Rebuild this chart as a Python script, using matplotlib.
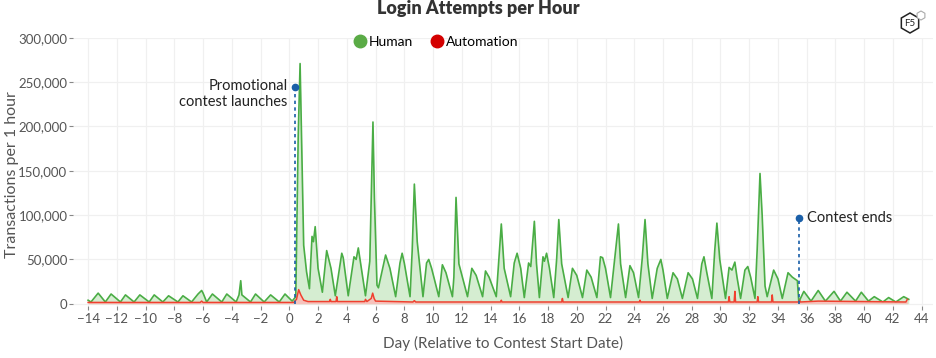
import numpy as np
import matplotlib
matplotlib.use('Agg')
import matplotlib.pyplot as plt
from matplotlib.lines import Line2D
from matplotlib.patches import RegularPolygon
from matplotlib.ticker import FuncFormatter

plt.rcParams['font.family'] = ['Lato', 'DejaVu Sans']

# values: (day, thousands of transactions)
human_day = [-14.0, -13.8, -13.3, -12.8, -12.4, -11.75, -11.4, -10.8, -10.4, -9.75, -9.4, -8.8, -8.4,
             -7.75, -7.4, -6.8, -6.35, -6.1, -6.0, -5.75, -5.35, -4.7, -4.35, -3.7, -3.5, -3.38, -3.3,
             -2.7, -2.35, -1.75, -1.3, -0.7, -0.3, 0.2, 0.45, 0.62, 0.75, 0.84, 1.0, 1.2, 1.4, 1.58,
             1.68, 1.8, 2.0, 2.3, 2.6, 2.9, 3.2, 3.65, 3.75, 4.1, 4.5, 4.65, 4.8, 5.3, 5.6, 5.82, 5.92,
             6.1, 6.2, 6.7, 7.0, 7.4, 7.7, 7.85, 8.0, 8.4, 8.55, 8.7, 8.9, 9.3, 9.55, 9.7, 9.9, 10.4,
             10.65, 10.9, 11.35, 11.45, 11.6, 11.8, 12.4, 12.7, 13.0, 13.45, 13.65, 13.9, 14.4, 14.6,
             14.75, 14.95, 15.4, 15.65, 15.85, 16.1, 16.35, 16.65, 16.8, 17.05, 17.2, 17.4, 17.65,
             17.75, 17.9, 18.1, 18.4, 18.6, 18.75, 18.95, 19.4, 19.7, 20.0, 20.4, 20.7, 21.0, 21.4,
             21.65, 21.8, 22.0, 22.35, 22.6, 22.9, 23.05, 23.4, 23.7, 23.95, 24.3, 24.55, 24.75, 24.95,
             25.25, 25.6, 25.85, 26.0, 26.3, 26.7, 27.0, 27.35, 27.75, 28.05, 28.4, 28.7, 28.85, 29.05,
             29.4, 29.6, 29.75, 29.95, 30.35, 30.6, 30.8, 31.0, 31.15, 31.4, 31.7, 31.9, 32.1, 32.4,
             32.55, 32.75, 32.9, 33.1, 33.25, 33.7, 34.0, 34.3, 34.7, 35.0, 35.35, 35.45, 35.8, 36.3,
             36.8, 37.3, 37.9, 38.35, 38.8, 39.4, 39.8, 40.3, 40.7, 41.3, 41.7, 42.2, 42.75, 43.1]
human_k = [4, 2, 12, 2, 11, 2, 10, 2, 10, 2, 10, 2, 9,
           2, 9, 2, 11, 15, 12, 2, 11, 2, 11, 2, 10, 26, 10,
           2, 11, 2, 10, 2, 11, 3, 8, 190, 271, 195, 66, 36, 17, 76,
           70, 87, 40, 13, 60, 40, 9, 57, 52, 9, 53, 50, 63, 9, 48, 205, 120,
           21, 18, 55, 40, 8, 46, 57, 46, 8, 60, 135, 70, 8, 46, 50, 40, 8,
           44, 35, 8, 30, 120, 45, 8, 40, 32, 8, 37, 30, 8, 55,
           90, 40, 8, 46, 57, 40, 7, 46, 42, 93, 45, 7, 53,
           48, 57, 40, 7, 50, 95, 45, 7, 40, 32, 7, 38, 30, 7,
           53, 52, 40, 7, 45, 90, 45, 7, 43, 35, 7, 50, 95, 45,
           6, 40, 50, 38, 6, 35, 28, 6, 35, 28, 6, 45, 53, 35,
           6, 60, 91, 50, 6, 41, 38, 47, 30, 6, 38, 42, 30, 6,
           60, 147, 100, 20, 8, 38, 28, 6, 35, 30, 26, 2, 14, 3,
           15, 3, 14, 3, 13, 3, 13, 3, 8, 2, 7, 2, 8, 5]

auto_day = [-14.0, -6.2, -6.1, -6.0, 0.3, 0.5, 0.65, 0.8, 1.0, 1.3, 2.8, 2.85, 2.9, 3.25, 3.3, 3.35,
            5.25, 5.3, 5.4, 5.7, 5.8, 5.9, 6.0, 8.6, 8.7, 8.8, 14.7, 14.75, 14.8, 18.95, 19.0, 19.05,
            24.35, 24.4, 24.45, 30.55, 30.6, 30.65, 30.95, 31.0, 31.05, 32.55, 32.6, 32.65, 33.55,
            33.6, 33.65, 35.45, 35.5, 35.55, 36.8, 42.9, 43.0]
auto_k = [1.5, 1.5, 3, 1.5, 1.5, 5, 16, 10, 4, 2.5, 2.5, 5, 2.5, 2.5, 8, 2.5,
          2.5, 5, 2.5, 6, 12, 6, 3, 2, 3.5, 2, 2, 4, 2, 2, 6, 2,
          2, 4, 2, 2, 8, 2, 2, 14, 2, 2, 8, 2, 2,
          10, 2, 2, 4, 2, 3, 2, 5]

launch_day, launch_k = 0.42, 245
end_day, end_k = 35.45, 97

human_day = np.array(human_day)
human_val = np.array(human_k) * 1000
auto_day = np.array(auto_day)
auto_val = np.array(auto_k) * 1000

fig = plt.figure(figsize=(9.36, 3.58), dpi=100)
ax = fig.add_axes([0.078, 0.1453, 0.919, 0.749])

green = '#4aad45'
red = '#f0402f'
blue = '#1a5fa8'
grey = '#555555'

ax.fill_between(human_day, 0, human_val, color='#d5edd1', lw=0, zorder=2)
ax.plot(human_day, human_val, color=green, lw=1.2, zorder=3)
ax.fill_between(auto_day, 0, auto_val, color='#f6c2bc', lw=0, zorder=4)
ax.plot(auto_day, auto_val, color=red, lw=1.1, zorder=5)

# annotations
ax.plot([launch_day, launch_day], [0, launch_k * 1000], ls=(0, (2, 2)), color=blue, lw=1.2, zorder=6)
ax.plot(launch_day, launch_k * 1000, 'o', color=blue, ms=4.5, zorder=7)
ax.text(launch_day - 0.55, launch_k * 1000 + 9000, 'Promotional\ncontest launches', ha='right', va='top',
        fontsize=10.5, color='#222222', linespacing=1.25)
ax.plot([end_day, end_day], [0, end_k * 1000], ls=(0, (2, 2)), color=blue, lw=1.2, zorder=6)
ax.plot(end_day, end_k * 1000, 'o', color=blue, ms=4.5, zorder=7)
ax.text(end_day + 0.6, end_k * 1000, 'Contest ends', ha='left', va='center', fontsize=10.5, color='#222222')

ax.set_xlim(-15.05, 44.8)
ax.set_ylim(-2500, 300000)
ax.set_xticks(np.arange(-14, 45, 2))
ax.set_yticks(np.arange(0, 300001, 50000))
ax.yaxis.set_major_formatter(FuncFormatter(lambda v, p: f'{int(v):,}'))
for s in ax.spines.values():
    s.set_visible(False)
ax.grid(True, color='#f0f0f0', lw=0.9, zorder=0)
ax.set_axisbelow(True)
ax.tick_params(axis='both', colors='#888888', labelcolor=grey, labelsize=9.5, length=3, width=0.8, pad=1)
ax.tick_params(axis='x', pad=2)

ax.set_xlabel('Day (Relative to Contest Start Date)', fontsize=11, color=grey, labelpad=8)
ax.set_ylabel('Transactions per 1 hour', fontsize=11.5, color=grey)
ax.yaxis.set_label_coords(-0.063, 0.49)

fig.text(0.511, 0.975, 'Login Attempts per Hour', ha='center', va='center', fontsize=13,
         fontweight='heavy', color='#333333')

handles = [Line2D([], [], marker='o', ls='', color='#5aab46', ms=9),
           Line2D([], [], marker='o', ls='', color='#d40000', ms=9)]
ax.legend(handles, ['Human', 'Automation'], loc='center', bbox_to_anchor=(0.422, 0.986), ncol=2,
          frameon=False, fontsize=10, handlelength=0.9, handletextpad=0.15, columnspacing=1.3,
          borderaxespad=0)

# F5 logo
lax = fig.add_axes([890 / 936, 1 - 40 / 358, 40 / 936, 40 / 358])
lax.set_xlim(0, 40)
lax.set_ylim(40, 0)
lax.set_aspect('equal')
lax.axis('off')
lax.add_patch(RegularPolygon((20, 23), 6, radius=10, orientation=0, fill=False, ec='#222222', lw=1.1))
lax.text(20, 23.5, 'F5', ha='center', va='center', fontsize=7, color='#222222')
lax.add_patch(RegularPolygon((31, 15.5), 6, radius=4.5, orientation=0, fill=True, fc='white', ec='#aaaaaa', lw=0.8))

fig.savefig('out.png', dpi=100)
